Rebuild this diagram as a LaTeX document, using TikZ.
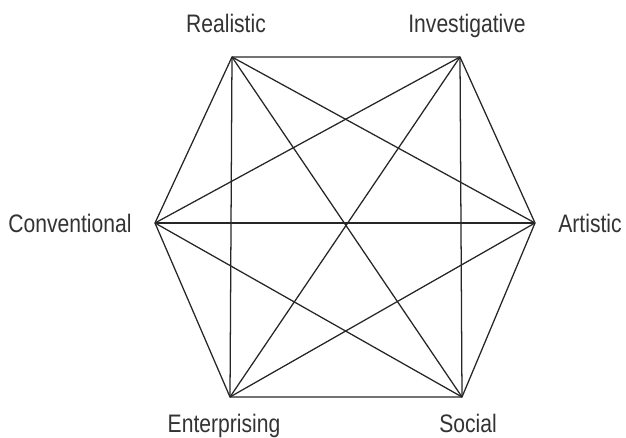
\documentclass[tikz,border=0pt]{standalone}
\usepackage{fontspec}
\setmainfont{Liberation Sans}
\usepackage{tikz}
\tikzstyle{edge} = [line width=0.9pt, color=black!85]
\tikzstyle{typebox} = [inner sep=0pt, anchor=base, text=black!80, font=\fontsize{15}{18}\selectfont, yscale=1.2, transform shape]

\begin{document}
\begin{tikzpicture}[x=0.025cm, y=0.025cm]
\useasboundingbox (0,0) rectangle (626,437);

% Corners of the hexagon
\coordinate (real) at (232,380);
\coordinate (inv) at (460,380);
\coordinate (art) at (535,214);
\coordinate (soc) at (462,40);
\coordinate (ent) at (230,40);
\coordinate (conv) at (155,214);

% Type names
\node[typebox] (realtxt) at (226,405) {Realistic};
\node[typebox] (invtxt) at (467,405) {Investigative};
\node[typebox] (arttxt) at (590,205) {Artistic};
\node[typebox] (soctxt) at (468,5) {Social};
\node[typebox] (enttxt) at (224,5) {Enterprising};
\node[typebox] (convtxt) at (70,205) {Conventional};

% Outer hexagon
\draw[edge] (real) -- (inv) -- (art) -- (soc) -- (ent) -- (conv) -- cycle;

% Diagonals
\draw[edge] (real) -- (art);
\draw[edge] (real) -- (soc);
\draw[edge] (real) -- (ent);
\draw[edge] (inv) -- (soc);
\draw[edge] (inv) -- (ent);
\draw[edge] (inv) -- (conv);
\draw[edge] (art) -- (ent);
\draw[edge] (art) -- (conv);
\draw[edge] (soc) -- (conv);
\end{tikzpicture}
\end{document}
